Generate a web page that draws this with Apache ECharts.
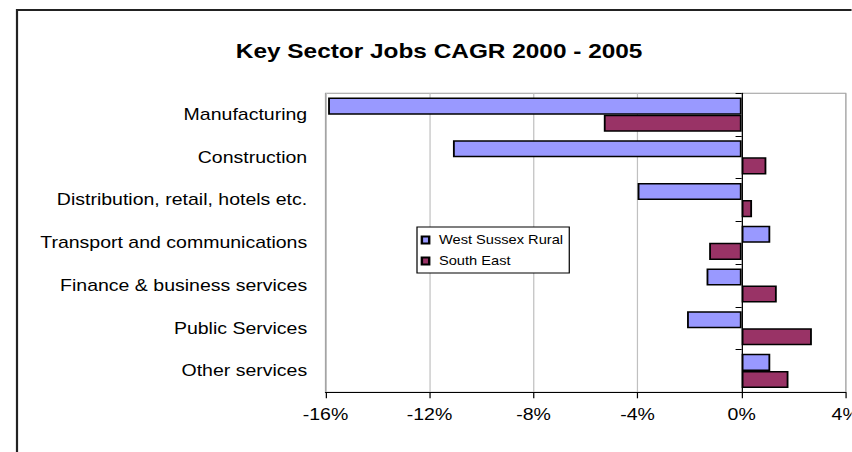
<!DOCTYPE html>
<html>
<head>
<meta charset="utf-8">
<script src="https://cdn.jsdelivr.net/npm/echarts@6/dist/echarts.min.js"></script>
<style>
html,body{margin:0;padding:0;background:#fff;overflow:hidden;}
#wrap{width:852px;height:452px;overflow:hidden;position:relative;}
#chart{height:452px;transform-origin:0 0;}
</style>
</head>
<body>
<div id="wrap"><div id="chart"></div></div>
<script>
var categories = ["Manufacturing", "Construction", "Distribution, retail, hotels etc.", "Transport and communications", "Finance & business services", "Public Services", "Other services"];
var westSussexRural = [-15.9, -11.1, -4.0, 1.1, -1.35, -2.1, 1.1];
var southEast = [-5.3, 0.95, 0.4, -1.25, 1.35, 2.7, 1.8];
var seriesNames = ["West Sussex Rural", "South East"];
var xTicks = { min: -16, max: 4, interval: 4 };

// The reference picture is horizontally stretched; draw narrower and stretch the whole chart.
var S = 1.22;
var W = 852 / S;
var el = document.getElementById('chart');
el.style.width = W + 'px';
el.style.transform = 'scaleX(' + S + ')';

var FONT = "'Liberation Sans', Arial, sans-serif";
var gLeft = 325.5 / S, gRight = 6.3 / S;
var gWidth = W - gLeft - gRight;
var zeroOffset = -gWidth * (0 - xTicks.min) / (xTicks.max - xTicks.min);

var chart = echarts.init(el, null, { renderer: 'svg', width: W, height: 452 });
chart.setOption({
  animation: false,
  backgroundColor: '#fff',
  textStyle: { fontFamily: FONT, color: '#000' },
  title: {
    text: 'Key Sector Jobs CAGR 2000 - 2005',
    left: 433 / S, top: 36, textAlign: 'center',
    textStyle: { fontFamily: FONT, fontWeight: 'bold', fontSize: 20, color: '#000' }
  },
  graphic: [{
    type: 'rect', shape: { x: 17 / S, y: 10, width: W, height: 470 },
    style: { fill: 'none', stroke: '#222', lineWidth: 1.8 }, silent: true, z: 100
  }],
  legend: {
    orient: 'vertical', left: 417 / S, top: 227,
    data: seriesNames, icon: 'rect', itemWidth: 6, itemHeight: 7, itemGap: 9,
    padding: [7, 5, 6, 3], borderColor: '#000', borderWidth: 1, backgroundColor: '#fff',
    textStyle: { fontFamily: FONT, fontSize: 12, color: '#000', padding: [0, 0, 0, 3] }
  },
  grid: { left: gLeft, right: gRight, top: 93.3, bottom: 59.7, show: true, borderColor: '#9a9a9a', borderWidth: 1, backgroundColor: '#fff', outerBoundsMode: 'none', containLabel: false },
  xAxis: {
    type: 'value', min: xTicks.min, max: xTicks.max, interval: xTicks.interval,
    axisLine: { show: true, onZero: false, lineStyle: { color: '#000', width: 1 } },
    axisTick: { show: true, length: 6, lineStyle: { color: '#000' } },
    axisLabel: { formatter: '{value}%', fontSize: 16, color: '#000', margin: 14, fontFamily: FONT },
    splitLine: { show: true, lineStyle: { color: '#c0c0c0', width: 1 } }
  },
  yAxis: [{
    type: 'category', data: categories, inverse: true,
    axisLine: { show: false }, axisTick: { show: false },
    axisLabel: { fontSize: 16, color: '#000', margin: 15, fontFamily: FONT }
  }, {
    type: 'category', data: categories, inverse: true, position: 'left', offset: zeroOffset,
    axisLine: { show: true, onZero: false, lineStyle: { color: '#000', width: 1 } },
    axisTick: { show: true, length: 5, lineStyle: { color: '#000' } },
    axisLabel: { show: false }, splitLine: { show: false }, z: 5
  }],
  series: [{
    name: seriesNames[0], type: 'bar', data: westSussexRural, yAxisIndex: 0,
    barGap: '0%', barCategoryGap: '20%',
    itemStyle: { color: '#9999FF', borderColor: '#000', borderWidth: 1.5 }
  }, {
    name: seriesNames[1], type: 'bar', data: southEast, yAxisIndex: 0,
    barGap: '0%', barCategoryGap: '20%',
    itemStyle: { color: '#993366', borderColor: '#000', borderWidth: 1.5 }
  }]
});
</script>
</body>
</html>
